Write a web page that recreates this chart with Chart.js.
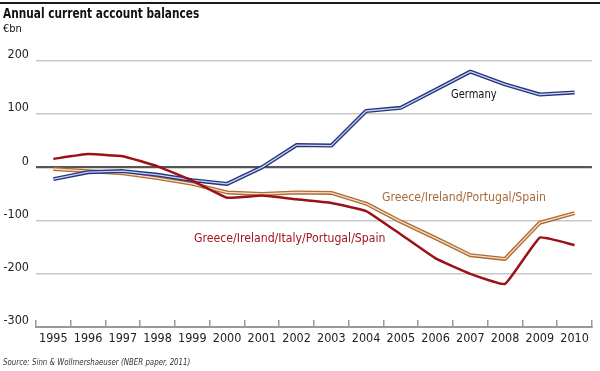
<!DOCTYPE html>
<html>
<head>
<meta charset="utf-8">
<script src="https://cdn.jsdelivr.net/npm/chart.js@4"></script>
<style>
  body { margin: 0; background: #fff; }
  #wrap { position: relative; width: 600px; height: 371px; overflow: hidden;
    font-family: 'Liberation Sans Narrow', 'DejaVu Sans Condensed', 'Roboto', sans-serif; color: #111; }
  #wrap canvas { position: absolute; left: 0; top: 0; }
  .txt { position: absolute; white-space: nowrap; line-height: 16px; transform-origin: left center; }
  #rule { position: absolute; left: 0; top: 2px; width: 600px; height: 2px; background: #1a1a1a; }
</style>
</head>
<body>
<div id="wrap">
  <canvas id="chart" width="600" height="371"></canvas>
  <div id="rule"></div>
  <div class="txt" style="left:3px;top:5px;font-size:14.5px;font-weight:bold;transform:scaleX(0.81);">Annual current account balances</div>
  <div class="txt" style="left:3px;top:21px;font-size:11px;">€bn</div>
  <div class="txt" style="left:451px;top:86px;font-size:12px;color:#111;transform:scaleX(0.92);">Germany</div>
  <div class="txt" style="left:382px;top:189px;font-size:12.2px;color:#a66a3c;">Greece/Ireland/Portugal/Spain</div>
  <div class="txt" style="left:194px;top:230px;font-size:12.2px;color:#a3151c;">Greece/Ireland/Italy/Portugal/Spain</div>
  <div class="txt" style="left:3px;top:354px;font-size:9px;font-style:italic;color:#333;transform:scaleX(0.87);">Source: Sinn &amp; Wollmershaeuser (NBER paper, 2011)</div>
</div>
<script>
// Annual current account balances, €bn

const YEARS = ['1995', '1996', '1997', '1998', '1999', '2000', '2001', '2002',
  '2003', '2004', '2005', '2006', '2007', '2008', '2009', '2010'];
const GERMANY = [-22, -9, -7, -14, -24, -31, 0, 42, 41, 106, 112, 146, 180, 156, 137, 141];
const GIPS = [-3, -7, -11, -20, -31, -47, -50, -47, -48, -68, -102, -133, -165, -172, -104, -86];
const GIIPS = [16, 25, 21, 2, -25, -57, -53, -60, -67, -82, -126, -171, -200, -219, -132, -146];
const Y_TICKS = [200, 100, 0, -100, -200, -300];

const COLORS = {
  germany: '#25347f',
  germanyInner: '#c9d1ee',
  gips: '#b06a32',
  gipsInner: '#f2dfca',
  giips: '#9b1119',
  grid: '#c8c8c8',
  zero: '#555555',
  axis: '#999999',
  text: '#222222',
};

const FONT = "'Liberation Sans Narrow', 'DejaVu Sans Condensed', 'Roboto', sans-serif";

const line = (data, color, width, order, tension) => ({
  data, borderColor: color, borderWidth: width, pointRadius: 0,
  tension: tension || 0, fill: false, order, borderJoinStyle: 'round',
});

new Chart(document.getElementById('chart'), {
  type: 'line',
  data: {
    labels: YEARS,
    datasets: [
      line(GIIPS, COLORS.giips, 2.5, 0, 0.1),
      line(GERMANY, COLORS.germanyInner, 1.3, 1),
      line(GERMANY, COLORS.germany, 4, 2),
      line(GIPS, COLORS.gipsInner, 1.3, 3),
      line(GIPS, COLORS.gips, 4, 4),
    ],
  },
  options: {
    responsive: false,
    devicePixelRatio: 1,
    animation: false,
    layout: { padding: { top: 61, right: 4, bottom: 24, left: 0 } },
    plugins: { legend: { display: false }, tooltip: { enabled: false } },
    scales: {
      x: {
        type: 'category',
        offset: true,
        grid: { offset: true, drawOnChartArea: false, drawTicks: true, tickLength: -7, color: COLORS.axis, lineWidth: 1.5 },
        border: { display: true, color: COLORS.axis, width: 2 },
        ticks: { padding: 11, color: COLORS.text, font: { family: FONT, size: 12.5 }, maxRotation: 0, autoSkip: false },
        afterFit: s => { s.height = 20; },
      },
      y: {
        min: -300,
        max: 200,
        afterBuildTicks: s => { s.ticks = Y_TICKS.map(v => ({ value: v })); },
        grid: {
          drawTicks: false,
          color: c => c.tick.value === 0 ? COLORS.zero : (c.tick.value === -300 ? 'rgba(0,0,0,0)' : COLORS.grid),
          lineWidth: c => c.tick.value === 0 ? 2.2 : 1.5,
        },
        border: { display: false },
        ticks: { padding: 7, labelOffset: -6, color: COLORS.text, font: { family: FONT, size: 12.5 }, callback: v => String(v) },
        afterFit: s => { s.width = 36; },
      },
    },
  },
});
</script>
</body>
</html>
